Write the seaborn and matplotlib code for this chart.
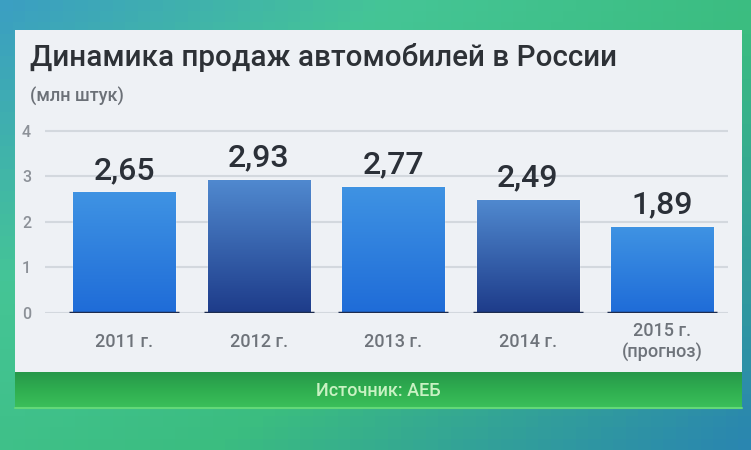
import numpy as np
import pandas as pd
import seaborn as sns
import matplotlib.pyplot as plt
from matplotlib.patches import Rectangle
from matplotlib.colors import LinearSegmentedColormap

# data
years = ["2011 г.", "2012 г.", "2013 г.", "2014 г.", "2015 г.\n(прогноз)"]
sales = [2.65, 2.93, 2.77, 2.49, 1.89]
value_labels = ["2,65", "2,93", "2,77", "2,49", "1,89"]
y_ticks = [0, 1, 2, 3, 4]

title = "Динамика продаж автомобилей в России"
subtitle = "(млн штук)"
source = "Источник: АЕБ"

FONT = ["Roboto", "DejaVu Sans"]

sns.set_theme(style="white")
plt.rcParams["font.family"] = FONT

W, H = 751, 450
fig = plt.figure(figsize=(W / 100, H / 100), dpi=100)

# background: teal / green studio backdrop
bg = fig.add_axes([0, 0, 1, 1])
bg.set_xlim(0, W)
bg.set_ylim(H, 0)
bg.axis("off")
gx, gy = np.meshgrid(np.linspace(0, 1, 60), np.linspace(0, 1, 40))
bg_cmap = LinearSegmentedColormap.from_list("bg", ["#3b9fc2", "#45c596", "#3bbd80", "#2a86b0"])
bg.imshow(0.55 * gx + 0.45 * gy * (1 - gx) + 0.3 * gy * gx, cmap=bg_cmap,
          extent=(0, W, H, 0), aspect="auto", zorder=0)

# white panel
bg.add_patch(Rectangle((15, 30), 727, 342, facecolor="#eef1f5", edgecolor="none", zorder=1))
# green source strip
grad = np.linspace(0, 1, 50).reshape(-1, 1)
green_cmap = LinearSegmentedColormap.from_list("gr", ["#27984a", "#2fae50", "#3bbf5a"])
bg.imshow(grad, cmap=green_cmap, extent=(15, 742, 408, 372), aspect="auto", zorder=1)
bg.plot([15, 742], [408, 408], color="#63d878", lw=1.5, zorder=2)

bg.text(30, 58, title, fontsize=21.3, fontweight="medium", color="#2d3136",
        va="center", ha="left", zorder=3)
bg.text(30, 96, subtitle, fontsize=13, fontweight="medium", color="#6b7077",
        va="center", ha="left", zorder=3)
bg.text(378, 391, source, fontsize=13, fontweight="medium", color="#c9f2c3",
        va="center", ha="center", zorder=3)

# chart
ax = fig.add_axes([45 / W, 1 - 313 / H, (728 - 45) / W, (313 - 128.7) / H])
ax.set_facecolor("none")
df = pd.DataFrame({"year": years, "sales": sales})
sns.barplot(data=df, x="year", y="sales", ax=ax, width=0.76, color="#2f7fdd",
            saturation=1, zorder=2)

ax.set_yticks(y_ticks)
ax.yaxis.grid(True, color="#d3d8de", lw=1.5, zorder=0)
ax.set_axisbelow(True)
for s in ax.spines.values():
    s.set_visible(False)
ax.set_xlabel("")
ax.set_ylabel("")
ax.tick_params(axis="y", labelsize=11.5, labelcolor="#8c9198", pad=10, length=0)
ax.tick_params(axis="x", labelsize=13, labelcolor="#6e737a", pad=21, length=0)
for t in ax.get_xticklabels():
    t.set_fontweight("medium")
    t.set_verticalalignment("center")
for t in ax.get_yticklabels():
    t.set_fontweight("medium")

light = LinearSegmentedColormap.from_list("light", ["#1f6cd8", "#3f93e3"])
dark = LinearSegmentedColormap.from_list("dark", ["#1e3c8a", "#5089cf"])
vgrad = np.linspace(1, 0, 100).reshape(-1, 1)
for i, (bar, lab) in enumerate(zip(ax.patches, value_labels)):
    x0, w, h = bar.get_x(), bar.get_width(), bar.get_height()
    cm = dark if i % 2 else light
    im = ax.imshow(vgrad, cmap=cm, extent=(x0, x0 + w, 0, h), aspect="auto", zorder=3)
    im.set_clip_path(bar)
    ax.hlines(0, x0 - 0.03, x0 + w + 0.03, color="#1d2c4f", lw=2.5, zorder=4)
    ax.text(x0 + w / 2, h + 0.16, lab, ha="center", va="bottom", fontsize=23,
            fontweight="medium", color="#2b3038", zorder=5)

ax.set_xlim(-0.59, 4.49)
ax.set_ylim(0, 4.05)

fig.savefig("out.png", dpi=100)
